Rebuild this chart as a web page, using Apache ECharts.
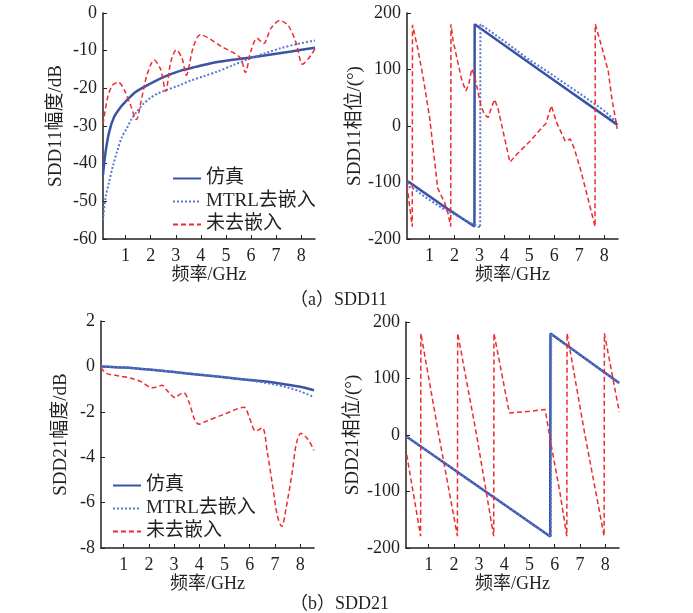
<!DOCTYPE html>
<html>
<head>
<meta charset="utf-8">
<script src="https://cdn.jsdelivr.net/npm/echarts@6/dist/echarts.min.js"></script>
<style>
  html, body { margin: 0; padding: 0; background: #fff; }
  #main { width: 693px; height: 613px; }
</style>
</head>
<body>
<div id="main"></div>
<script>
// 频率刻度
var freqTicks = [1, 2, 3, 4, 5, 6, 7, 8];
var seriesNames = ['仿真', 'MTRL去嵌入', '未去嵌入'];

// (a) SDD11 幅度 [GHz, dB]
var s11MagSim = [[0.1,-43],[0.2,-37],[0.35,-31.5],[0.55,-27.5],[0.8,-25],[1.0,-23.5],[1.4,-21],[1.8,-19.4],[2.2,-18],[2.7,-16.5],[3.2,-15.3],[3.8,-14.3],[4.5,-13.2],[5.2,-12.5],[6.0,-11.8],[6.8,-11],[7.6,-10.2],[8.55,-9.2]];
var s11MagMtrl = [[0.1,-55],[0.2,-49],[0.32,-45.5],[0.5,-40.5],[0.66,-36.8],[0.85,-33],[1.05,-30.6],[1.25,-28],[1.45,-26.2],[1.7,-24.2],[1.98,-22.6],[2.3,-21.3],[2.65,-20.4],[3.1,-19.3],[3.58,-18],[4.1,-16.8],[4.64,-15.6],[5.3,-13.8],[5.97,-12],[6.6,-10.6],[7.16,-9.4],[7.8,-8.3],[8.55,-7.3]];
var s11MagRaw = [[0.1,-29.5],[0.3,-22],[0.5,-19],[0.72,-18.4],[0.95,-20.5],[1.2,-24.5],[1.43,-28.3],[1.6,-24],[1.85,-16.5],[2.14,-12.5],[2.4,-15],[2.6,-20.8],[2.8,-13],[3.02,-9.8],[3.25,-12],[3.42,-16.5],[3.7,-9],[3.98,-5.8],[4.8,-8.8],[5.57,-11.9],[5.77,-15.8],[6.0,-10],[6.24,-6.7],[6.5,-8.1],[6.8,-4],[7.15,-2],[7.5,-3.5],[7.8,-8],[8.05,-13.6],[8.3,-12],[8.55,-9.5]];

// (a) SDD11 相位 [GHz, deg]
var s11PhSim = [[0.14,-98],[1.5,-140],[2.8,-178],[2.81,180],[5.5,96],[8.53,2]];
var s11PhMtrl = [[0.14,-100],[0.2,-108],[0.4,-112],[0.8,-125],[1.5,-145],[2.5,-168],[3.03,-180],[3.04,180],[3.3,172],[4,150],[5,117],[5.5,103],[6,88],[7,58],[8,27],[8.53,5]];
var s11PhRaw = [[0.1,-105],[0.2,-140],[0.31,-178],[0.32,179],[0.54,135],[0.75,85],[1.0,17],[1.33,-110],[1.6,-135],[1.72,-150],[1.85,-178],[1.86,180],[1.95,150],[2.13,114],[2.3,80],[2.46,62],[2.58,75],[2.69,101],[2.8,90],[3.05,38],[3.2,20],[3.35,15],[3.5,35],[3.61,47],[3.75,30],[4.0,-20],[4.22,-64],[4.5,-50],[5.0,-28],[5.4,-8],[5.67,5],[5.88,36],[6.1,5],[6.44,-27],[6.64,-23],[6.8,-40],[7.03,-74],[7.3,-120],[7.63,-178],[7.64,180],[7.9,140],[8.16,97],[8.3,50],[8.52,-5]];

// (b) SDD21 幅度 [GHz, dB]
var s21MagSim = [[0.1,0],[1,-0.05],[2,-0.14],[3,-0.25],[4,-0.37],[5,-0.48],[6,-0.6],[7,-0.72],[8,-0.9],[8.55,-1.05]];
var s21MagMtrl = [[0.1,0],[1,-0.04],[2,-0.13],[3,-0.24],[4,-0.35],[5,-0.48],[6,-0.62],[7,-0.8],[7.5,-0.93],[8,-1.1],[8.55,-1.35]];
var s21MagRaw = [[0.1,-0.05],[0.3,-0.3],[0.79,-0.42],[1.3,-0.52],[1.7,-0.68],[2.12,-0.94],[2.3,-0.92],[2.52,-0.83],[2.75,-1.1],[3.05,-1.38],[3.2,-1.25],[3.38,-1.16],[3.6,-1.6],[3.8,-2.3],[3.98,-2.55],[4.2,-2.45],[5.0,-2.1],[5.77,-1.8],[6.0,-2.3],[6.23,-2.85],[6.5,-2.7],[6.7,-3.8],[6.9,-5.2],[7.1,-6.6],[7.27,-7.05],[7.45,-6.2],[7.69,-4.63],[7.85,-3.4],[8.03,-2.95],[8.3,-3.2],[8.55,-3.7]];

// (b) SDD21 相位 [GHz, deg]
var s21PhSim = [[0.13,-3],[3,-92],[5.82,-179.5],[5.83,179.5],[8.56,92]];
var s21PhMtrl = [[0.13,-3],[3,-93],[5.85,-180],[5.86,180],[8.56,91]];
var s21PhRaw = [[0.13,-35],[0.68,-179],[0.69,180],[1.4,0],[2.14,-179],[2.15,180],[2.9,0],[3.58,-179],[3.59,180],[4.2,39],[5.0,42],[5.62,45],[5.88,-23],[6.2,-100],[6.48,-179],[6.49,180],[7.2,0],[7.96,-179],[7.97,180],[8.56,41]];

var chart = echarts.init(document.getElementById('main'));

var txtColor = '#231f20';
var fontFam = '"Liberation Serif", "Noto Sans CJK SC", serif';

var blueSolid = {color: '#3a53a4', width: 2.5, type: 'solid'};
var blueDot = {color: '#5878d0', width: 2, type: 'dotted'};
var redDash = {color: '#ee2a2e', width: 1.5, type: [5, 3]};

function xAx(idx, gap) {
  return {
    type: 'value', gridIndex: idx, min: 0.1, max: 8.55,
    name: '频率/GHz', nameLocation: 'middle', nameGap: gap,
    nameTextStyle: {fontFamily: fontFam, fontSize: 18, color: txtColor},
    axisLine: {show: true, onZero: false, lineStyle: {color: txtColor, width: 1.5}},
    axisTick: {show: true, inside: true, length: 4, customValues: freqTicks, lineStyle: {color: txtColor}},
    axisLabel: {customValues: freqTicks, margin: 8, fontFamily: fontFam, fontSize: 18, color: txtColor},
    splitLine: {show: false}
  };
}

function yAx(idx, name, min, max, step, gap) {
  return {
    type: 'value', gridIndex: idx, min: min, max: max, interval: step,
    name: name, nameLocation: 'middle', nameGap: gap,
    nameTextStyle: {fontFamily: fontFam, fontSize: 19, color: txtColor},
    axisLine: {show: true, onZero: false, lineStyle: {color: txtColor, width: 1.5}},
    axisTick: {show: true, inside: true, length: 4, lineStyle: {color: txtColor}},
    axisLabel: {margin: 6, fontFamily: fontFam, fontSize: 18, color: txtColor},
    splitLine: {show: false}
  };
}

function line(name, data, idx, style, smooth) {
  return {
    name: name, type: 'line', xAxisIndex: idx, yAxisIndex: idx,
    data: data, showSymbol: false, symbol: 'none', smooth: smooth || false,
    lineStyle: style, itemStyle: {color: style.color}, animation: false
  };
}

function legendAt(left, top) {
  return {
    data: seriesNames, orient: 'vertical', left: left, top: top,
    itemWidth: 28, itemHeight: 12, itemGap: 4,
    itemStyle: {opacity: 0, borderWidth: 0},
    textStyle: {fontFamily: fontFam, fontSize: 19, color: txtColor},
    selectedMode: false
  };
}

option = {
  backgroundColor: '#fff',
  animation: false,
  title: [
    {text: '（a）SDD11', left: 285, top: 286, textStyle: {fontFamily: fontFam, fontSize: 18, fontWeight: 'normal', color: txtColor}},
    {text: '（b）SDD21', left: 285, top: 590, textStyle: {fontFamily: fontFam, fontSize: 18, fontWeight: 'normal', color: txtColor}}
  ],
  legend: [legendAt(167, 164), legendAt(107, 471)],
  grid: [
    {left: 103, top: 13, width: 212, height: 226},
    {left: 407, top: 13, width: 211, height: 226},
    {left: 101, top: 321, width: 213, height: 227},
    {left: 406, top: 322, width: 213, height: 226}
  ],
  xAxis: [xAx(0, 27), xAx(1, 27), xAx(2, 25), xAx(3, 25)],
  yAxis: [
    yAx(0, 'SDD11幅度/dB', -60, 0, 10, 37),
    yAx(1, 'SDD11相位/(°)', -200, 200, 100, 40),
    yAx(2, 'SDD21幅度/dB', -8, 2, 2, 30),
    yAx(3, 'SDD21相位/(°)', -200, 200, 100, 43)
  ],
  series: [
    line(seriesNames[0], s11MagSim, 0, blueSolid, 0.3),
    line(seriesNames[1], s11MagMtrl, 0, blueDot, 0.3),
    line(seriesNames[2], s11MagRaw, 0, redDash, 0.3),
    line(seriesNames[0], s11PhSim, 1, blueSolid),
    line(seriesNames[1], s11PhMtrl, 1, blueDot),
    line(seriesNames[2], s11PhRaw, 1, redDash),
    line(seriesNames[0], s21MagSim, 2, blueSolid, 0.3),
    line(seriesNames[1], s21MagMtrl, 2, blueDot, 0.3),
    line(seriesNames[2], s21MagRaw, 2, redDash, 0.3),
    line(seriesNames[0], s21PhSim, 3, blueSolid),
    line(seriesNames[1], s21PhMtrl, 3, blueDot),
    line(seriesNames[2], s21PhRaw, 3, redDash)
  ]
};

chart.setOption(option);
</script>
</body>
</html>
